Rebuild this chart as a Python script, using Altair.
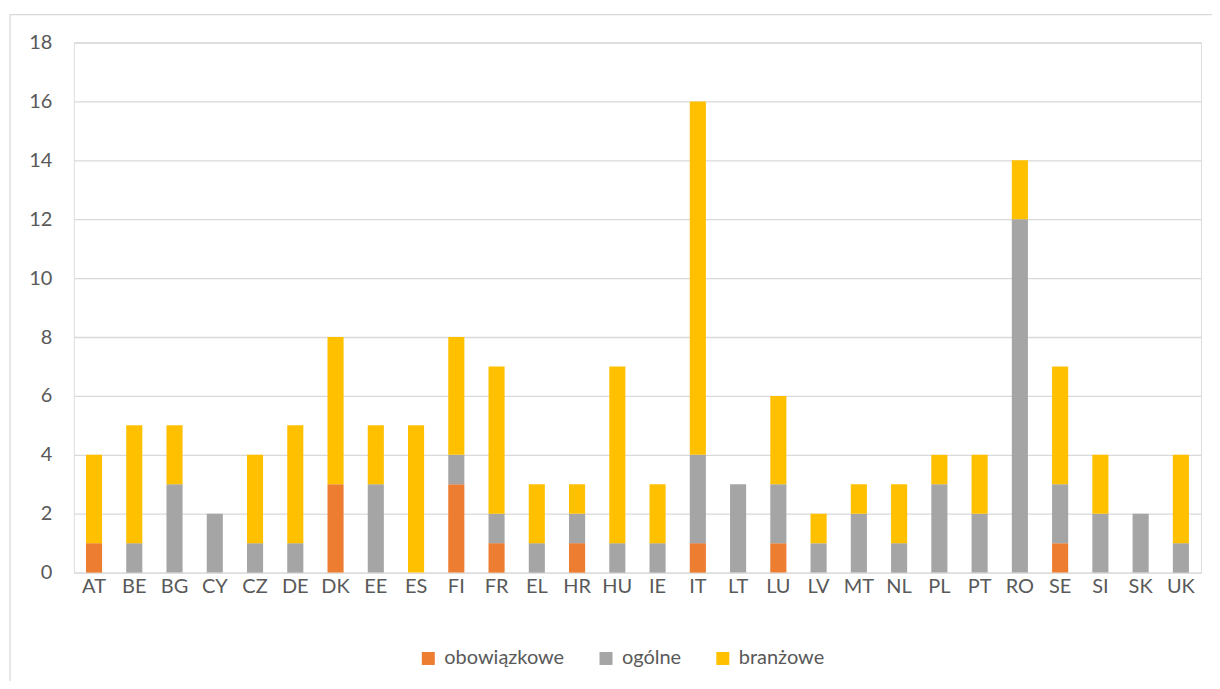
import altair as alt
import pandas as pd

countries = ["AT", "BE", "BG", "CY", "CZ", "DE", "DK", "EE", "ES", "FI", "FR", "EL", "HR", "HU",
             "IE", "IT", "LT", "LU", "LV", "MT", "NL", "PL", "PT", "RO", "SE", "SI", "SK", "UK"]
obowiazkowe = [1, 0, 0, 0, 0, 0, 3, 0, 0, 3, 1, 0, 1, 0, 0, 1, 0, 1, 0, 0, 0, 0, 0, 0, 1, 0, 0, 0]
ogolne =      [0, 1, 3, 2, 1, 1, 0, 3, 0, 1, 1, 1, 1, 1, 1, 3, 3, 2, 1, 2, 1, 3, 2, 12, 2, 2, 2, 1]
branzowe =    [3, 4, 2, 0, 3, 4, 5, 2, 5, 4, 5, 2, 1, 6, 2, 12, 0, 3, 1, 1, 2, 1, 2, 2, 4, 2, 0, 3]

series = ["obowiązkowe", "ogólne", "branżowe"]
colors = ["#ED7D31", "#A5A5A5", "#FFC000"]

rows = []
for i, c in enumerate(countries):
    for k, (name, vals) in enumerate(zip(series, [obowiazkowe, ogolne, branzowe])):
        rows.append({"kraj": c, "typ": name, "wartosc": vals[i], "kol": k})
df = pd.DataFrame(rows)

FONT = "Lato"
TXT = "#595959"
FS = 20

bars = alt.Chart(df).mark_bar().encode(
    x=alt.X("kraj:N", sort=countries, title=None,
            scale=alt.Scale(paddingInner=0.6, paddingOuter=0.3),
            axis=alt.Axis(labelAngle=0, labelFontSize=FS, labelColor=TXT, labelFont=FONT,
                          ticks=False, domain=False, labelPadding=4, grid=False)),
    y=alt.Y("sum(wartosc):Q", title=None,
            scale=alt.Scale(domain=[0, 18]),
            axis=alt.Axis(values=list(range(0, 19, 2)), labelFontSize=FS, labelColor=TXT,
                          labelFont=FONT, ticks=False, domain=False, labelPadding=22,
                          gridColor="#D9D9D9", gridWidth=1.3)),
    color=alt.Color("typ:N", sort=series,
                    scale=alt.Scale(domain=series, range=colors),
                    legend=alt.Legend(title=None, orient="none", direction="horizontal",
                                      legendX=345, legendY=607, symbolType="square",
                                      symbolSize=169, symbolStrokeWidth=0, labelFontSize=FS,
                                      labelFont=FONT, labelColor=TXT, columnPadding=31,
                                      labelOffset=6)),
    order=alt.Order("kol:Q", sort="ascending"),
)

frame_top = alt.Chart(pd.DataFrame({"a": [0]})).mark_rule(color="#D9D9D9", strokeWidth=1.3).encode(
    x=alt.value(-64), x2=alt.value(1140), y=alt.value(-28))
frame_left = alt.Chart(pd.DataFrame({"a": [0]})).mark_rule(color="#D9D9D9", strokeWidth=1.3).encode(
    x=alt.value(-64), y=alt.value(-28), y2=alt.value(660))

chart = alt.layer(frame_top, frame_left, bars).properties(
    width=1129, height=531,
    autosize=alt.AutoSizeParams(type="none"),
    padding={"left": 66, "top": 34, "right": 11, "bottom": 108},
).configure_view(stroke=None).configure(font=FONT)

chart.save("out.html", embed_options={"renderer": "svg", "actions": False})
